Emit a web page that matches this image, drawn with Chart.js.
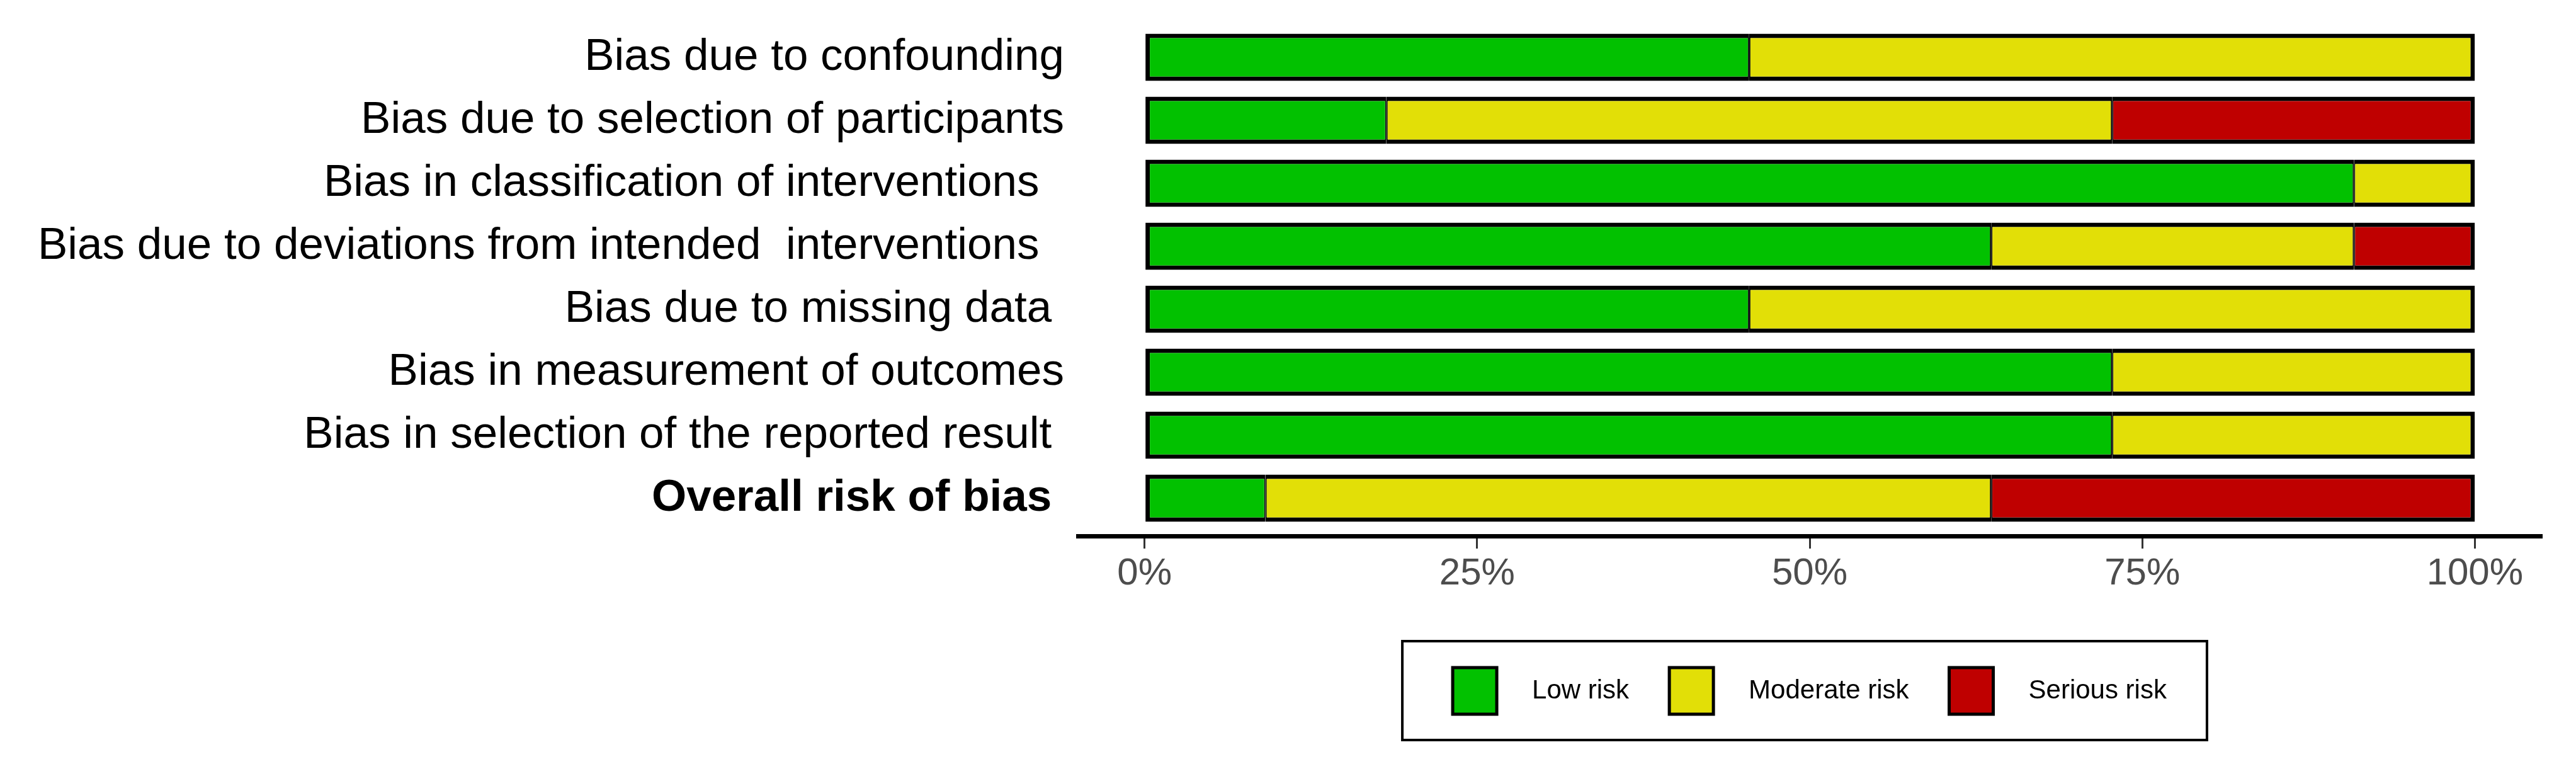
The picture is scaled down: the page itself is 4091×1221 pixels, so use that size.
<!DOCTYPE html>
<html>
<head>
<meta charset="utf-8">
<title>Risk of bias summary</title>
<script src="https://cdn.jsdelivr.net/npm/chart.js@4.4.1/dist/chart.umd.min.js"></script>
<style>
  html, body { margin: 0; padding: 0; background: #fff; }
  #wrap { width: 4091px; height: 1221px; }
</style>
</head>
<body>
<div id="wrap"><canvas id="robChart"></canvas></div>
<script>
// domains (trailing spaces kept as in the original labels)
const categories = [
  'Bias due to confounding',
  'Bias due to selection of participants',
  'Bias in classification of interventions  ',
  'Bias due to deviations from intended  interventions  ',
  'Bias due to missing data ',
  'Bias in measurement of outcomes',
  'Bias in selection of the reported result ',
  'Overall risk of bias '
];

// percent of studies per judgement
const lowRisk      = [45.45, 18.18, 90.91, 63.64, 45.45, 72.73, 72.73,  9.09];
const moderateRisk = [54.55, 54.55,  9.09, 27.27, 54.55, 27.27, 27.27, 54.55];
const seriousRisk  = [ 0,    27.27,  0,     9.09,  0,     0,     0,    36.36];

const seriesNames = ['Low risk', 'Moderate risk', 'Serious risk'];
const xTicks = [0, 25, 50, 75, 100];

const seriesValues = [lowRisk, moderateRisk, seriousRisk];
const seriesColors = ['#02C100', '#E2DF07', '#BF0000'];
const FONT = "'Liberation Sans', Arial, Helvetica, sans-serif";

// thick outline round the whole bar, thin lines between segments
function segBorder(ctx) {
  if (ctx.type !== 'data') return 4;
  const i = ctx.dataIndex;
  const vals = seriesValues.map(s => s[i]);
  const first = vals.findIndex(v => v > 0);
  let last = -1;
  vals.forEach((v, k) => { if (v > 0) last = k; });
  const d = ctx.datasetIndex;
  return { top: 7, bottom: 7, left: d === first ? 7 : 2, right: d === last ? 7 : 2 };
}

// frame drawn round the legend items
const legendFrame = {
  id: 'legendFrame',
  afterDraw(chart) {
    const hb = chart.legend && chart.legend.legendHitBoxes;
    if (!hb || !hb.length) return;
    const first = hb[0], last = hb[hb.length - 1];
    const x0 = first.left - 80;
    const x1 = last.left + last.width + 64;
    const y0 = first.top - 42;
    const y1 = first.top + first.height + 41;
    const c = chart.ctx;
    c.save();
    c.lineWidth = 4;
    c.strokeStyle = '#000';
    c.strokeRect(x0, y0, x1 - x0, y1 - y0);
    c.restore();
  }
};

new Chart(document.getElementById('robChart'), {
  type: 'bar',
  data: {
    datasets: seriesValues.map((vals, s) => ({
      label: seriesNames[s],
      data: vals.map((v, i) => ({ x: v, y: i })),
      backgroundColor: seriesColors[s],
      borderColor: '#000',
      borderWidth: segBorder,
      borderSkipped: false,
      barPercentage: 0.75,
      categoryPercentage: 1
    }))
  },
  options: {
    indexAxis: 'y',
    responsive: true,
    maintainAspectRatio: false,
    devicePixelRatio: 1,
    animation: false,
    layout: { padding: { top: 31, right: 55, bottom: 77, left: 0 } },
    scales: {
      x: {
        type: 'linear',
        stacked: true,
        offset: false,
        min: -5,
        max: 105,
        afterBuildTicks: scale => { scale.ticks = xTicks.map(v => ({ value: v })); },
        afterFit: scale => { scale.height = 145; },
        grid: { display: true, drawOnChartArea: false, drawTicks: true, tickLength: 20, color: '#333', lineWidth: 3 },
        border: { display: true, color: '#000', width: 7 },
        ticks: {
          callback: v => v + '%',
          color: '#4D4D4D',
          padding: 4,
          font: { family: FONT, size: 60 }
        }
      },
      y: {
        type: 'linear',
        stacked: true,
        offset: false,
        reverse: true,
        min: -0.6,
        max: 7.6,
        afterBuildTicks: scale => { scale.ticks = categories.map((c, i) => ({ value: i })); },
        afterFit: scale => { scale.width = 1712; scale.paddingTop = 0; scale.paddingBottom = 0; },
        grid: { display: false, drawTicks: false, offset: false },
        border: { display: false },
        ticks: {
          callback: v => categories[v],
          color: '#000',
          padding: 22,
          font: c => ({ family: FONT, size: 71, weight: c.tick && c.tick.value === categories.length - 1 ? 'bold' : 'normal' })
        }
      }
    },
    plugins: {
      tooltip: { enabled: false },
      legend: {
        position: 'bottom',
        fullSize: false,
        align: 'center',
        labels: {
          color: '#000',
          font: { family: FONT, size: 42 },
          boxWidth: 70,
          boxHeight: 74,
          padding: 64,
          generateLabels: chart => chart.data.datasets.map((ds, i) => ({
            text: '   ' + ds.label,
            fillStyle: ds.backgroundColor,
            strokeStyle: '#000',
            lineWidth: 5,
            hidden: false,
            datasetIndex: i
          }))
        }
      }
    }
  },
  plugins: [legendFrame]
});
</script>
</body>
</html>
